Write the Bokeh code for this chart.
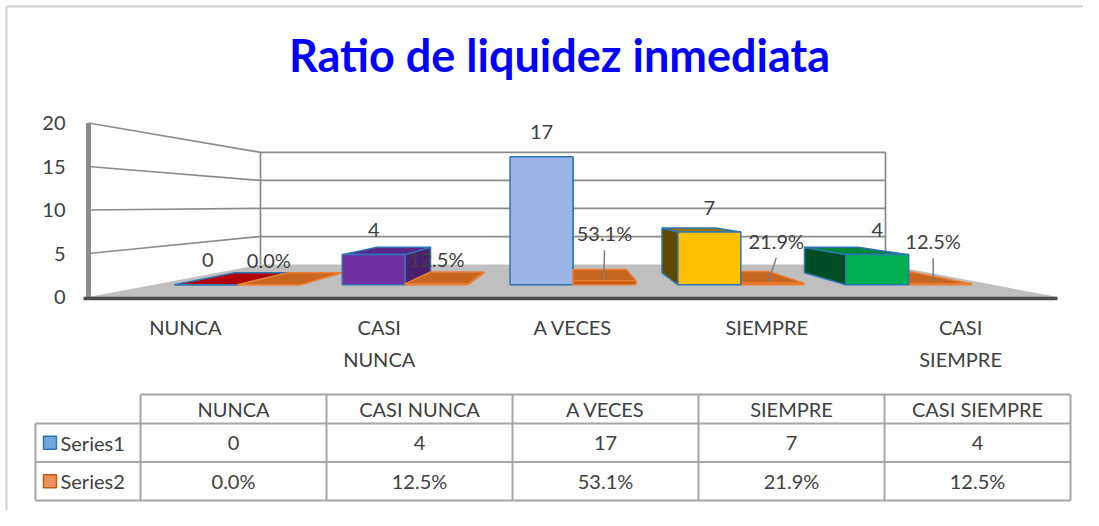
from bokeh.plotting import figure
from bokeh.models import Range1d, ColumnDataSource
from bokeh.embed import file_html
from bokeh.resources import INLINE
from bokeh.core.properties import value

# ---------------- data ----------------
title_text = "Ratio de liquidez inmediata"
categories = ["NUNCA", "CASI NUNCA", "A VECES", "SIEMPRE", "CASI SIEMPRE"]
series_names = ["Series1", "Series2"]
series1 = [0, 4, 17, 7, 4]
series2 = [0.0, 0.125, 0.531, 0.219, 0.125]
y_ticks = [0, 5, 10, 15, 20]

# ---------------- styles ----------------
FONT = "Lato"
TEXT_C = "#404040"
FS = "20px"
s1_front = ["#C00000", "#7030A0", "#9AB6E6", "#FFC000", "#00B050"]
s1_top = ["#B00000", "#57288A", "#8AA8DC", "#9A7400", "#00853C"]
s1_side = ["#7A0000", "#4A1F6E", "#6F8FC4", "#5E4A00", "#004D25"]
s1_line = "#2E75B6"
s2_front, s2_top, s2_side, s2_line = "#C55A11", "#C8661F", "#A04A0E", "#ED7D31"
legend_fill = ["#6FA8DC", "#F0905A"]
legend_line = ["#2E75B6", "#C55A11"]
# per-label shifts (screen px) for data labels that were moved by hand
s1_shift = [(2, 0), (0, 0), (0, 0), (0, 0), (0, 0)]
s2_shift = [(0, 0), (0, 0), (0, -23), (4, -18), (-7, -18)]

# ---------------- layout ----------------
FIG_W, FIG_H = 1083, 510
X0, Y0 = 88.0, 296.5          # front-left floor corner (screen px)
PXU, PYV = 193.8, 8.7         # px per category / per value unit on the front plane
UC, VC = 2.5, 10.5            # perspective centre (data units)
SB, SF, SK = 0.645, 0.866, 0.735   # depth scale: back wall, bar front, bar back
SLOTS = [(0.125, 0.5), (0.5, 0.875)]
N = len(categories)
VMAX = y_ticks[-1]
CX0, CW = 140.0, 186.0        # table: first data column left edge, column width (px)
RY0, RH = 394.0, 38.5         # table: top edge, row height (px)


def ux(px):
    return (px - X0) / PXU


def vy(py):
    return (Y0 - py) / PYV


def cx(px):
    return (px - CX0) / CW


def ry(py):
    return (py - RY0) / RH


def P(u, v, s):
    return (UC + (u - UC) * s, VC + (v - VC) * s)


p = figure(width=FIG_W, height=FIG_H,
           x_range=Range1d(ux(0), ux(FIG_W)),
           y_range=Range1d(vy(FIG_H), vy(0)),
           output_backend="svg", toolbar_location=None, title=None,
           x_axis_location=None, y_axis_location=None,
           min_border_left=0, min_border_right=0, min_border_top=0, min_border_bottom=0)
p.extra_x_ranges = {"tx": Range1d(cx(0), cx(FIG_W))}
p.extra_y_ranges = {"ty": Range1d(ry(FIG_H), ry(0))}
p.xgrid.visible = False
p.ygrid.visible = False
p.outline_line_color = None
p.background_fill_color = "white"
p.border_fill_color = "white"

# chart-area border
p.segment(x0=[ux(6), ux(6)], y0=[vy(6), vy(6)], x1=[ux(6), ux(FIG_W)], y1=[vy(FIG_H), vy(6)],
          line_color="#D0D0D0", line_width=2)

# floor
corners = [P(0, 0, 1), P(N, 0, 1), P(N, 0, SB), P(0, 0, SB)]
p.patch([c[0] for c in corners], [c[1] for c in corners], fill_color="#BFBFBF", line_color=None)

# walls grid
gx, gy = [], []
for v in y_ticks[1:]:
    a, b, c = P(0, v, 1), P(0, v, SB), P(N, v, SB)
    gx.append([a[0], b[0], c[0]])
    gy.append([a[1], b[1], c[1]])
for u in (0, N):
    a, b = P(u, 0, SB), P(u, VMAX, SB)
    gx.append([a[0], b[0]])
    gy.append([a[1], b[1]])
p.multi_line(gx, gy, line_color="#8C8C8C", line_width=1.75)

# front axis line and floor edge
p.segment(x0=[0], y0=[0], x1=[0], y1=[VMAX], line_color="#8C8C8C", line_width=5)
p.segment(x0=[ux(83)], y0=[vy(298)], x1=[N], y1=[vy(298)], line_color="#4D4D4D", line_width=3.5)

# value-axis tick labels
p.text([ux(65)] * len(y_ticks), y_ticks, [str(v) for v in y_ticks], text_align="right",
       text_baseline="middle", text_font=value(FONT), text_font_size=FS, text_color=TEXT_C)

# boxes
boxes = []
for i in range(N):
    boxes.append((i + SLOTS[0][0], i + SLOTS[0][1], series1[i], s1_front[i], s1_top[i], s1_side[i], s1_line))
    boxes.append((i + SLOTS[1][0], i + SLOTS[1][1], series2[i], s2_front, s2_top, s2_side, s2_line))
boxes.sort(key=lambda b: -abs((b[0] + b[1]) / 2 - UC))
fx, fy, ff, fl_ = [], [], [], []


def add(face, fill, line):
    fx.append([q[0] for q in face])
    fy.append([q[1] for q in face])
    ff.append(fill)
    fl_.append(line)


for u0, u1, v, cf, ct, cs, cl in boxes:
    f_l, f_r, f_lt, f_rt = P(u0, 0, SF), P(u1, 0, SF), P(u0, v, SF), P(u1, v, SF)
    b_l, b_r, b_lt, b_rt = P(u0, 0, SK), P(u1, 0, SK), P(u0, v, SK), P(u1, v, SK)
    if u1 <= UC:
        add([f_r, f_rt, b_rt, b_r], cs, cl)
    elif u0 >= UC:
        add([f_l, f_lt, b_lt, b_l], cs, cl)
    if v < VC:
        add([f_lt, f_rt, b_rt, b_lt], ct, cl)
    add([f_l, f_r, f_rt, f_lt], cf, cl)
p.patches("xs", "ys", source=ColumnDataSource(dict(xs=fx, ys=fy, fill=ff, line=fl_)),
          fill_color="fill", line_color="line", line_width=1.5)

# data labels
lx, ly, lt = [], [], []
ldx0, ldy0, ldx1, ldy1 = [], [], [], []
for k, (vals, shifts) in enumerate(((series1, s1_shift), (series2, s2_shift))):
    for i, v in enumerate(vals):
        uc = i + (SLOTS[k][0] + SLOTS[k][1]) / 2
        tx, ty = P(uc, v, SF)
        dx, dy = shifts[i]
        x = tx + dx / PXU
        y = ty + (24.5 - dy) / PYV
        lx.append(x)
        ly.append(y)
        lt.append(str(v) if k == 0 else f"{v * 100:.1f}%")
        if dy != 0:
            ex, ey = P(uc, v, 0.85)
            ldx0.append(x)
            ldy0.append(y - 17 / PYV)
            ldx1.append(ex)
            ldy1.append(ey)
p.segment(x0=ldx0, y0=ldy0, x1=ldx1, y1=ldy1, line_color="#7F7F7F", line_width=1.5)
p.text(lx, ly, lt, text_align="center", text_baseline="middle",
       text_font=value(FONT), text_font_size=FS, text_color=TEXT_C)

# category labels
cat_lbl = [c.replace(" ", "\n") if len(c) > 8 else c for c in categories]
p.text([i + 0.5 for i in range(N)], [vy(314)] * N, cat_lbl, text_align="center", text_baseline="top",
       text_font=value(FONT), text_font_size=FS, text_color=TEXT_C, text_line_height=1.36)

# title
p.text([ux(559)], [vy(54.5)], [title_text], text_align="center", text_baseline="middle",
       text_font=value(FONT), text_font_size="45px", text_font_style="bold", text_color="#0000FF")

# ---------------- data table ----------------
TR = dict(x_range_name="tx", y_range_name="ty")
LEG_L = cx(35)
row_edges = [0, 0.75, 1.75, 2.75]
hx0, hy0, hx1, hy1 = [], [], [], []
for j, r in enumerate(row_edges):
    hx0.append(0 if j == 0 else LEG_L)
    hx1.append(N)
    hy0.append(r)
    hy1.append(r)
for c in range(N + 1):
    hx0.append(c); hx1.append(c); hy0.append(0); hy1.append(row_edges[-1])
hx0.append(LEG_L); hx1.append(LEG_L); hy0.append(row_edges[1]); hy1.append(row_edges[-1])
p.segment(x0=hx0, y0=hy0, x1=hx1, y1=hy1, line_color="#A6A6A6", line_width=2, **TR)

cols = [i + 0.5 for i in range(N)]
p.text(cols, [0.375] * N, categories, text_align="center", text_baseline="middle",
       text_font=value(FONT), text_font_size=FS, text_color=TEXT_C, **TR)
p.text(cols, [1.25] * N, [str(v) for v in series1], text_align="center", text_baseline="middle",
       text_font=value(FONT), text_font_size=FS, text_color=TEXT_C, **TR)
p.text(cols, [2.25] * N, [f"{v * 100:.1f}%" for v in series2], text_align="center", text_baseline="middle",
       text_font=value(FONT), text_font_size=FS, text_color=TEXT_C, **TR)
p.rect(x=[cx(49.5)] * 2, y=[1.25, 2.25], width=13, height=13, width_units="screen", height_units="screen",
       fill_color=legend_fill, line_color=legend_line, line_width=1.5, **TR)
p.text([cx(60)] * 2, [1.25, 2.25], series_names, text_align="left", text_baseline="middle",
       text_font=value(FONT), text_font_size=FS, text_color=TEXT_C, **TR)

open("out.html", "w").write(file_html(p, INLINE))
